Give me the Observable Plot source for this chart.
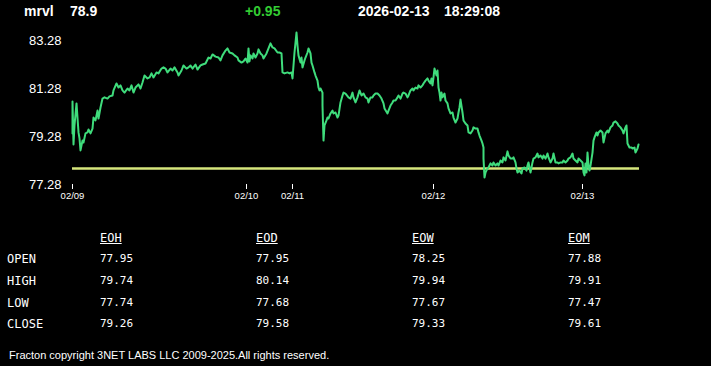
<!DOCTYPE html>
<html><head><meta charset="utf-8">
<script src="https://cdn.jsdelivr.net/npm/d3@7"></script>
<script src="https://cdn.jsdelivr.net/npm/@observablehq/plot@0.6"></script>
<style>
html,body{margin:0;padding:0;background:#000;}
#wrap{position:relative;width:711px;height:366px;overflow:hidden;background:#000;font-family:"Liberation Sans",Arial,sans-serif;color:#fff;}
.hd{position:absolute;top:3px;font-size:14px;font-weight:bold;white-space:pre;line-height:16px;}
#chart{position:absolute;left:0;top:0;}
.tb{position:absolute;font-family:"DejaVu Sans Mono",monospace;line-height:12px;color:#fff;white-space:pre;}
.foot{position:absolute;left:9px;top:349px;font-size:11px;line-height:13px;white-space:pre;}
</style></head>
<body><div id="wrap"></div>
<script>
const symbol = "mrvl", lastPrice = "78.9", change = "+0.95", date = "2026-02-13", time = "18:29:08";
const footer = "Fracton copyright 3NET LABS LLC 2009-2025.All rights reserved.";

const bars = [0,0,1,2,4,6,7,8,10,11,13,15,16,18,20,21,23,25,26,28,30,32,35,37,40,41,44,46,48,50,52,55,57,59,61,63,66,68,70,72,75,77,79,81,84,86,89,91,93,95,98,100,102,105,106,109,111,114,116,118,120,123,125,128,130,133,136,138,140,143,146,148,150,153,155,157,160,162,165,166,169,171,173,175,176,177,178,180,181,183,185,186,188,190,191,194,196,198,200,202,205,207,209,210,212,215,217,219,220,221,222,224,225,226,228,229,230,232,233,235,236,238,239,240,242,243,245,246,247,248,250,250,251,252,254,255,256,258,260,261,263,265,266,268,270,271,273,276,278,280,281,283,285,287,289,291,293,295,296,298,300,301,303,305,307,309,311,312,315,316,318,320,321,323,325,326,328,330,331,333,335,336,338,340,341,343,345,346,348,350,351,353,355,356,358,359,360,361,362,364,365,366,367,368,369,370,372,373,375,376,378,380,381,383,385,386,387,388,390,391,393,395,396,398,400,401,403,405,406,407,409,410,411,411,412,413,415,416,418,420,421,423,425,426,428,430,431,433,435,436,438,440,441,443,444,445,447,449,450,452,454,455,456,458,460,461,463,465,466,468,470,471,473,475,476,478,480,481,483,485,486,488,490,491,493,495,496,498,500,501,503,505,506,508,510,511,512,513,514,515,516,517,518,520,521,522,524,525,526,528,530,531,533,535,536,538,540,541,543,545,546,548,550,551,553,554,555,557,559,560,562,563,565,566];
const prices = [79.40,80.74,78.95,79.74,80.66,79.45,79.20,78.70,79.11,79.03,79.41,79.45,79.57,79.41,79.61,80.07,79.95,80.36,80.03,80.49,80.86,80.91,80.86,80.95,80.99,81.20,81.49,81.32,81.41,81.20,81.11,81.28,81.20,81.41,81.11,81.32,81.45,81.28,81.53,81.82,81.70,81.74,81.91,81.74,81.95,81.91,82.11,82.16,82.11,81.95,82.11,82.03,82.16,81.95,81.82,82.03,82.24,82.11,82.16,82.24,82.11,82.28,82.07,82.24,82.28,82.32,82.57,82.53,82.70,82.61,82.57,82.45,82.66,82.86,82.95,82.78,82.74,82.66,82.57,82.45,82.36,82.41,82.53,82.36,82.95,82.41,82.66,82.53,82.74,82.57,82.74,82.91,82.74,82.66,82.53,82.74,82.95,83.16,82.99,82.95,82.78,82.78,82.74,81.95,81.91,81.95,81.91,81.95,81.70,82.24,82.78,83.61,83.07,82.66,82.36,82.57,82.16,82.45,82.57,82.78,82.95,82.74,82.36,82.24,81.95,81.82,81.61,81.32,81.20,81.28,81.11,80.57,79.11,79.74,79.95,80.07,80.03,80.24,80.36,80.24,80.28,80.07,80.15,80.70,80.99,81.11,81.07,80.91,80.86,81.11,80.91,80.70,80.91,81.20,80.99,81.07,80.91,80.86,80.70,80.91,80.91,80.99,81.07,81.07,80.99,80.86,80.66,80.45,80.24,80.36,80.57,80.70,80.78,80.78,80.91,80.99,80.86,81.07,81.11,81.07,80.91,80.99,81.20,81.28,81.20,81.32,81.28,81.41,81.32,81.41,81.49,81.61,81.70,81.61,81.49,81.70,81.41,81.74,82.11,81.82,82.03,81.32,81.11,80.78,81.11,80.91,81.07,80.78,80.66,80.45,80.24,80.28,80.07,79.86,80.03,80.28,80.49,80.82,80.28,79.95,79.82,79.74,79.45,79.41,79.53,79.66,79.61,79.61,79.45,79.32,79.11,78.99,78.82,78.36,77.57,77.78,77.95,77.99,78.16,78.07,78.20,78.07,78.16,78.07,78.28,78.20,78.41,78.28,78.66,78.49,78.36,78.36,78.41,78.20,77.95,77.78,77.86,77.74,77.95,77.99,77.86,78.07,78.20,77.78,78.20,78.36,78.41,78.57,78.41,78.49,78.36,78.49,78.36,78.57,78.41,78.20,78.36,78.57,78.20,78.20,78.16,78.20,78.20,78.28,78.20,78.28,78.36,78.41,78.57,78.36,78.28,78.20,78.36,78.28,78.20,77.78,77.66,78.16,77.78,78.61,78.07,77.86,78.07,78.61,79.11,79.24,79.45,79.32,79.45,79.53,79.45,79.03,79.41,79.53,79.45,79.66,79.74,79.86,79.91,79.82,79.74,79.66,79.53,79.41,79.66,79.74,78.99,78.82,78.82,78.78,78.82,78.61,78.78,78.95];

const openRef = 77.95;
const barDomain = [0, 567];
const yTicks = [77.28, 79.28, 81.28, 83.28];
const dayTicks = [0, 174, 220, 361, 510];
const dayLabels = ["02/09", "02/10", "02/11", "02/12", "02/13"];

const colHeads = ["EOH", "EOD", "EOW", "EOM"];
const rowHeads = ["OPEN", "HIGH", "LOW", "CLOSE"];
const eoh = [77.95, 79.74, 77.74, 79.26];
const eod = [77.95, 80.14, 77.68, 79.58];
const eow = [78.25, 79.94, 77.67, 79.33];
const eom = [77.88, 79.91, 77.47, 79.61];

const wrap = document.getElementById("wrap");
function addText(cls, txt, left, top, extra) {
  const d = document.createElement("div");
  d.className = cls; d.textContent = txt;
  d.style.left = left + "px"; d.style.top = top + "px";
  if (extra) Object.assign(d.style, extra);
  wrap.appendChild(d);
  return d;
}

const data = bars.map((b, i) => ({bar: b, price: prices[i]}));
const chart = Plot.plot({
  width: 711, height: 210,
  marginLeft: 72, marginRight: 72, marginTop: 40, marginBottom: 26,
  style: {background: "transparent", color: "#fff", fontFamily: "Liberation Sans, Arial, sans-serif"},
  x: {domain: barDomain, axis: null},
  y: {domain: [yTicks[0], yTicks[yTicks.length - 1]], axis: null},
  marks: [
    Plot.ruleY([openRef], {stroke: "#d6e67c", strokeWidth: 2.5}),
    Plot.line(data, {x: "bar", y: "price", stroke: "#3fdc7c", strokeWidth: 2, curve: "linear"}),
    Plot.axisY(yTicks, {tickSize: 0, tickPadding: 11, fontSize: 13, fill: "#fff", label: null, tickFormat: d => d.toFixed(2)}),
    Plot.axisX(dayTicks, {tickSize: 5, tickPadding: 3, fontSize: 9.5, stroke: "#fff", fill: "#fff", label: null,
      tickFormat: d => dayLabels[dayTicks.indexOf(d)]})
  ]
});
chart.id = "chart";
wrap.appendChild(chart);

addText("hd", symbol, 24, 3);
addText("hd", lastPrice, 70, 3);
addText("hd", change, 245, 3, {color: "#33cc33"});
addText("hd", date, 358, 3);
addText("hd", time, 444, 3);

const colX = [100, 256, 412, 568];
const rowY = [253, 275, 297, 318];
const cols = [eoh, eod, eow, eom];
colHeads.forEach((h, j) => addText("tb", h, colX[j], 232, {fontSize: "12px", textDecoration: "underline"}));
rowHeads.forEach((r, i) => addText("tb", r, 7, rowY[i], {fontSize: "12px"}));
cols.forEach((c, j) => c.forEach((v, i) => addText("tb", v.toFixed(2), colX[j], rowY[i], {fontSize: "11px"})));

addText("foot", footer, 9, 349);
</script>
</body></html>
